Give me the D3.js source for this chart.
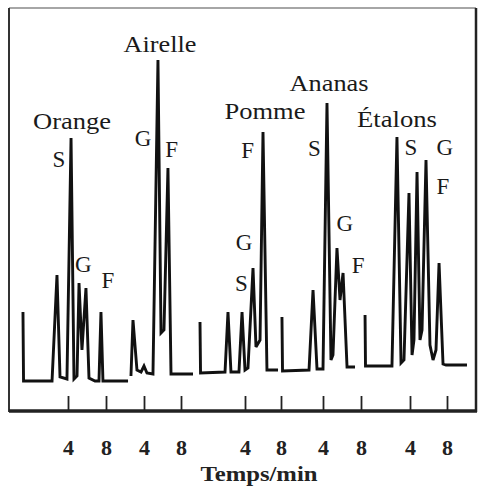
<!DOCTYPE html>
<html><head><meta charset="utf-8">
<script src="https://cdn.jsdelivr.net/npm/d3@7"></script>
<style>html,body{margin:0;padding:0;background:#fff;} svg text{font-family:"Liberation Serif","Times New Roman",Times,serif;}</style>
</head><body>
<script>
// ---- data (time in min, detector signal in arbitrary units) ----
const panelNames = ["Orange", "Airelle", "Pomme", "Ananas", "Étalons"];
const tickValues = [4, 8];
const axisTitle = "Temps/min";

const traceOrange = [[-0.74,69],[-0.68,0],[2.32,0],[2.84,106],[3.16,4],[3.89,2],[4.32,243],[4.63,2],[4.95,5],[5.16,98],[5.47,31],[5.89,93],[6.21,3],[6.84,0],[7.26,0],[7.47,69],[7.68,0],[10.32,0]];
const traceAirelle = [[2.59,5],[2.81,61],[3.24,11],[3.68,9],[4.00,15],[4.32,8],[4.97,7],[5.51,321],[5.84,48],[6.16,51],[6.59,213],[6.92,7],[9.30,7]];
const tracePomme = [[-1.00,59],[-0.94,8],[1.78,9],[2.11,69],[2.44,9],[3.33,9],[3.67,69],[4.00,11],[4.33,13],[4.89,113],[5.22,34],[5.67,41],[6.00,249],[6.44,11],[7.67,11]];
const traceAnanas = [[-0.32,64],[-0.26,10],[2.53,11],[2.95,91],[3.37,12],[4.00,12],[4.42,278],[4.84,21],[5.05,26],[5.47,133],[5.79,81],[6.11,108],[6.53,14],[7.37,14]];
const traceEtalons = [[-0.86,66],[-0.81,15],[2.05,15],[2.59,244],[3.03,18],[3.35,21],[3.89,188],[4.22,26],[4.43,41],[4.76,209],[5.08,41],[5.30,51],[5.73,221],[6.16,36],[6.49,21],[6.81,31],[7.14,118],[7.57,17],[7.89,16],[10.16,16]];
const traces = [traceOrange, traceAirelle, tracePomme, traceAnanas, traceEtalons];

// peak labels per panel: [letter, time, signal]
const peakLabelsOrange = [["S",3.05,214],["G",5.6,109],["F",8.2,93]];
const peakLabelsAirelle = [["G",3.9,235],["F",7.0,224]];
const peakLabelsPomme = [["F",4.3,223],["G",3.9,131],["S",3.6,90]];
const peakLabelsAnanas = [["S",3.1,225],["G",6.3,150],["F",7.7,108]];
const peakLabelsEtalons = [["S",4.1,226],["G",7.75,226],["F",7.55,187]];
const peakLabels = [peakLabelsOrange, peakLabelsAirelle, peakLabelsPomme, peakLabelsAnanas, peakLabelsEtalons];

// ---- layout ----
const W = 481, H = 489;
const tickPx = [[68,106],[144,181],[245,281],[323,361],[410,447]];
const namePos = [[72,129,78],[160,52,73],[265,119,81],[329,91,79],[397,127,80]];

const svg = d3.select("body").append("svg").attr("width", W).attr("height", H);
svg.append("rect").attr("width", W).attr("height", H).attr("fill", "#fff");

const y = d3.scaleLinear().domain([0, 320]).range([381, 61]);

// frame
svg.append("line").attr("x1",9).attr("x2",476).attr("y1",8).attr("y2",8).attr("stroke","#888").attr("stroke-width",1.5);
svg.append("line").attr("x1",9).attr("x2",9).attr("y1",8).attr("y2",412).attr("stroke","#333").attr("stroke-width",2);
svg.append("line").attr("x1",476).attr("x2",476).attr("y1",8).attr("y2",412).attr("stroke","#222").attr("stroke-width",2.5);
svg.append("line").attr("x1",9).attr("x2",477).attr("y1",411).attr("y2",411).attr("stroke","#222").attr("stroke-width",3.5);

traces.forEach((tr, i) => {
  const [a, b] = tickPx[i];
  const x = d3.scaleLinear().domain([4, 8]).range([a, b]);
  const line = d3.line().x(d => x(d[0])).y(d => y(d[1]));
  svg.append("path").datum(tr).attr("d", line)
    .attr("fill", "none").attr("stroke", "#111").attr("stroke-width", 2.9)
    .attr("stroke-linejoin", "miter").attr("stroke-miterlimit", 3);

  const ax = svg.append("g").attr("transform", "translate(0,396)")
    .call(d3.axisBottom(x).tickValues(tickValues).tickSize(14).tickFormat(d3.format("d")));
  ax.attr("font-family", null);
  ax.select(".domain").remove();
  ax.selectAll(".tick line").attr("stroke", "#222").attr("stroke-width", 1.8);
  ax.selectAll(".tick text").attr("y", 59).attr("dy", null)
    .attr("font-size", 22).attr("font-weight", "bold").attr("fill", "#222");

  const np = namePos[i];
  svg.append("text").attr("x", np[0]).attr("y", np[1]).attr("text-anchor", "middle")
    .attr("font-size", 23).attr("fill", "#1a1a1a")
    .attr("textLength", np[2]).attr("lengthAdjust", "spacingAndGlyphs")
    .text(panelNames[i]);

  peakLabels[i].forEach(p => {
    svg.append("text").attr("x", x(p[1])).attr("y", y(p[2])).attr("text-anchor", "middle")
      .attr("font-size", 23).attr("fill", "#1a1a1a").text(p[0]);
  });
});

svg.append("text").attr("x", 259).attr("y", 481).attr("text-anchor", "middle")
  .attr("font-size", 22).attr("font-weight", "bold").attr("fill", "#222")
  .attr("textLength", 117).attr("lengthAdjust", "spacingAndGlyphs").text(axisTitle);
</script>
</body></html>
